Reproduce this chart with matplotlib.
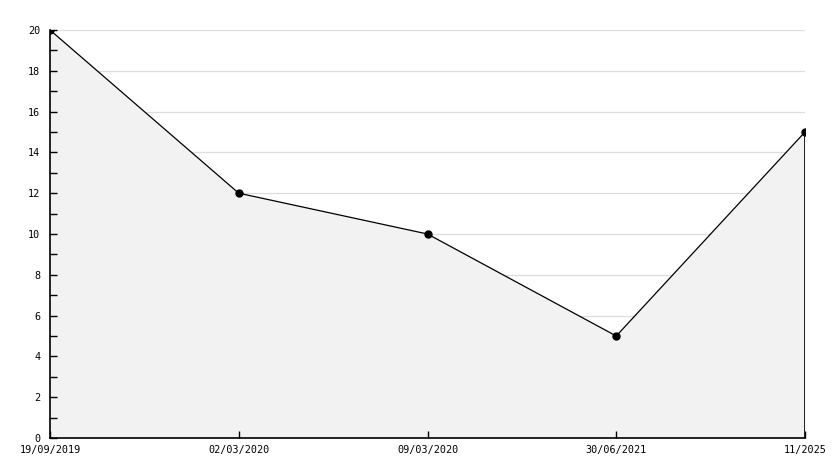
import matplotlib
matplotlib.use("Agg")
import matplotlib.pyplot as plt
from matplotlib.ticker import MultipleLocator

categories = ["19/09/2019", "02/03/2020", "09/03/2020", "30/06/2021", "11/2025"]
values = [20, 12, 10, 5, 15]

fig = plt.figure(figsize=(8.34, 4.68), dpi=100)
ax = fig.add_axes([50/834, 1-438/468, (805-50)/834, (438-30)/468])

x = list(range(len(categories)))
ax.set_xlim(0, len(categories) - 1)
ax.set_ylim(0, 20)
ax.set_xticks(x)
ax.set_xticklabels(categories)
ax.yaxis.set_major_locator(MultipleLocator(2))
ax.yaxis.set_minor_locator(MultipleLocator(1))

for yv in range(2, 21, 2):
    ax.axhline(yv, color="#dddddd", linewidth=0.9, zorder=1)

ax.fill_between(x, values, 0, color="#f2f2f2", zorder=2, linewidth=0)
ax.plot(x, values, color="black", linewidth=0.9, zorder=3)
ax.plot(x, values, linestyle="none", marker="o", markersize=5, color="black", zorder=4)
ax.plot([x[-1], x[-1]], [0, values[-1]], color="black", linewidth=1.2, zorder=3)
ax.set_axisbelow(False)

for s in ["top", "right"]:
    ax.spines[s].set_visible(False)
for s in ["left", "bottom"]:
    ax.spines[s].set_linewidth(1.2)
    ax.spines[s].set_zorder(5)

ax.tick_params(axis="y", which="major", direction="in", length=5, width=1, pad=7,
               labelsize=7.3, labelfontfamily="DejaVu Sans Mono")
ax.tick_params(axis="y", which="minor", direction="in", length=5, width=1)
ax.tick_params(axis="x", direction="in", length=5, width=1, pad=5,
               labelsize=7.3, labelfontfamily="DejaVu Sans Mono")

fig.savefig("out.png", dpi=100)
